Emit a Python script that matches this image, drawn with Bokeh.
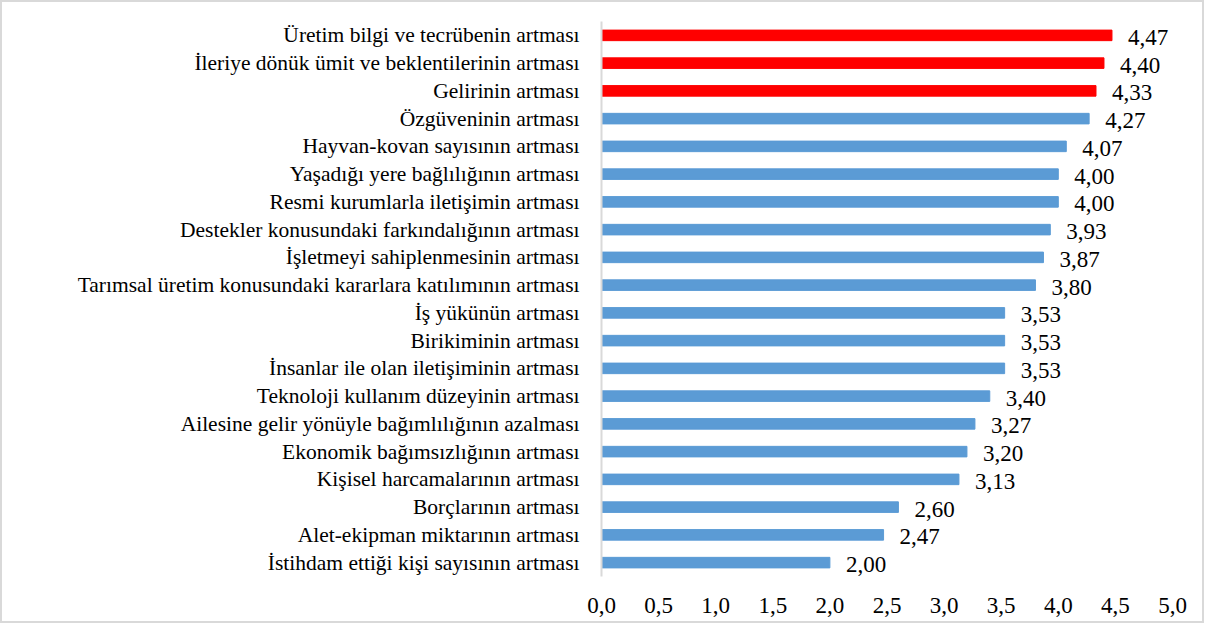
from bokeh.plotting import figure
from bokeh.models import FactorRange, Range1d, FixedTicker, ColumnDataSource
from bokeh.core.properties import value
from bokeh.embed import file_html
from bokeh.resources import INLINE

categories = [
    "Üretim bilgi ve tecrübenin artması",
    "İleriye dönük ümit ve beklentilerinin artması",
    "Gelirinin artması",
    "Özgüveninin artması",
    "Hayvan-kovan sayısının artması",
    "Yaşadığı yere bağlılığının artması",
    "Resmi kurumlarla iletişimin artması",
    "Destekler konusundaki farkındalığının artması",
    "İşletmeyi sahiplenmesinin artması",
    "Tarımsal üretim konusundaki kararlara katılımının artması",
    "İş yükünün artması",
    "Birikiminin artması",
    "İnsanlar ile olan iletişiminin artması",
    "Teknoloji kullanım düzeyinin artması",
    "Ailesine gelir yönüyle bağımlılığının azalması",
    "Ekonomik bağımsızlığının artması",
    "Kişisel harcamalarının artması",
    "Borçlarının artması",
    "Alet-ekipman miktarının artması",
    "İstihdam ettiği kişi sayısının artması",
]
values = [4.47, 4.40, 4.33, 4.27, 4.07, 4.00, 4.00, 3.93, 3.87, 3.80,
          3.53, 3.53, 3.53, 3.40, 3.27, 3.20, 3.13, 2.60, 2.47, 2.00]
highlighted = categories[:3]
ticks = [0.0, 0.5, 1.0, 1.5, 2.0, 2.5, 3.0, 3.5, 4.0, 4.5, 5.0]

RED = "#FF0000"
BLUE = "#5B9BD5"
FONT = "Liberation Serif"

colors = [RED if c in highlighted else BLUE for c in categories]
labels = [f"{v:.2f}".replace(".", ",") for v in values]
source = ColumnDataSource(dict(cat=categories, val=values, color=colors, label=labels))

p = figure(
    width=1204, height=623,
    y_range=FactorRange(factors=list(reversed(categories))),
    x_range=Range1d(0, 5),
    output_backend="svg", toolbar_location=None,
    min_border_left=599, min_border_right=34, min_border_top=19, min_border_bottom=49,
)
p.styles = {"border": "2px solid #d9d9d9"}
p.outline_line_color = None
p.background_fill_color = "white"
p.border_fill_color = "white"

p.hbar(y="cat", left=0, right="val", height=0.38, color="color", source=source)
p.text(x="val", y="cat", text="label", source=source, x_offset=16, y_offset=2,
       text_baseline="middle", text_align="left",
       text_font=value(FONT), text_font_size="23px", text_color="#000000")

p.xgrid.visible = False
p.ygrid.visible = False

xa = p.xaxis[0]
xa.ticker = FixedTicker(ticks=ticks)
xa.major_label_overrides = {t: f"{t:.1f}".replace(".", ",") for t in ticks}
xa.axis_line_color = None
xa.major_tick_line_color = None
xa.minor_tick_line_color = None
xa.major_label_standoff = 15
xa.major_label_text_font = FONT
xa.major_label_text_font_size = "23px"
xa.major_label_text_color = "#000000"

ya = p.yaxis[0]
ya.axis_line_color = "#d9d9d9"
ya.axis_line_width = 2
ya.major_tick_line_color = None
ya.minor_tick_line_color = None
ya.major_label_standoff = 16
ya.major_label_text_font = FONT
ya.major_label_text_font_size = "21.5px"
ya.major_label_text_color = "#000000"

open("out.html", "w").write(file_html(p, INLINE))
